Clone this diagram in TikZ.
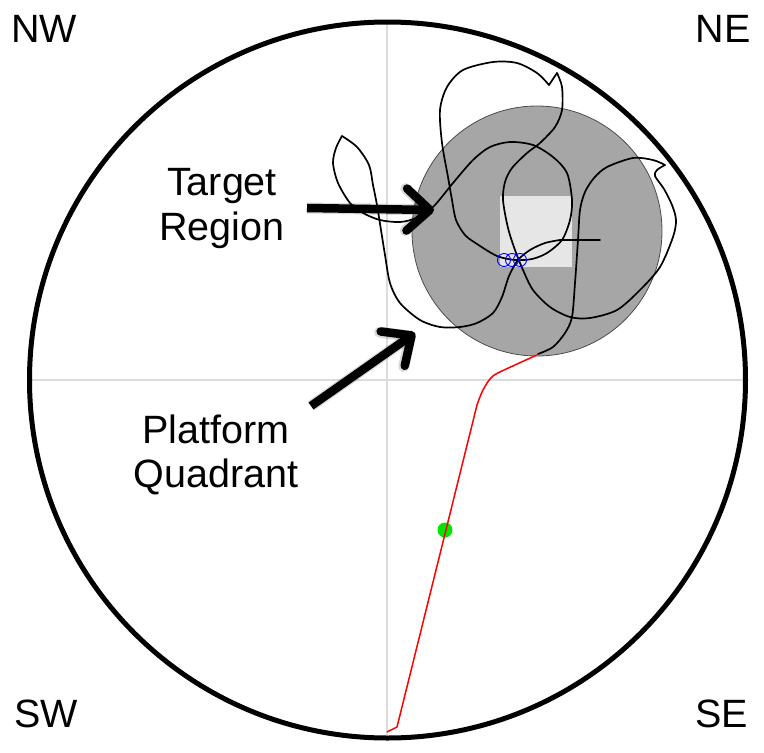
\documentclass[tikz,border=0pt]{standalone}
\usepackage{fontspec}
\setmainfont{Liberation Sans}
\usetikzlibrary{arrows.meta}
\definecolor{diskgray}{RGB}{166,166,166}
\definecolor{boxgray}{RGB}{230,230,230}
\definecolor{crossgray}{RGB}{220,220,220}
\definecolor{dotgreen}{RGB}{0,230,0}
\tikzset{
  traj/.style={line width=1.7pt, line join=round, line cap=round},
  pointer/.style={line width=8.5pt, -{Straight Barb[length=23pt,width=42pt,round]}},
  shade/.style={pointer, draw=black, opacity=0.15},
  lbl/.style={font=\fontsize{39.5}{46}\selectfont, inner sep=0pt},
  crossline/.style={draw=crossgray, line width=1.2pt},
}
\begin{document}
\begin{tikzpicture}[x=1pt,y=-1pt]
\useasboundingbox (0,0) rectangle (764,753);
% crosshair
\draw[crossline] (387,22) -- (387,738);
\draw[crossline] (27,380) -- (747,380);
% pool
\draw[line width=5pt] (387.5,380) circle[radius=358pt];
% target region
\filldraw[fill=diskgray, draw=black!70, line width=0.8pt] (537,231) circle[radius=125pt];
\fill[boxgray] (500,196) rectangle (572,267);
% trajectory
\draw[traj] plot[smooth, tension=0.5] coordinates {(538,354) (553,347) (565,333) (572,317) (575,283) (578,240) (580,210) (585,192) (594,178) (607,167) (633,158) (653,160) (665,165)};
\draw[traj] plot[smooth, tension=0.5] coordinates {(665,165) (657,170) (655,176) (664,189) (672,205) (676,220) (673,237) (660,267) (640,290) (617,310) (590,318) (570,317) (550,307) (533,290) (523,270) (515,250) (508,228) (503,200) (505,182) (512,168) (527,153) (540,143) (555,127) (562,110) (562,87) (557,73)};
\draw[traj] (557,73) -- (549,85);
\draw[traj] plot[smooth, tension=0.5] coordinates {(549,85) (537,73) (517,63) (493,62) (463,70) (447,87) (440,110) (442,143) (448,177) (452,200) (456,220) (465,235) (477,244) (497,256) (515,260) (532,259) (547,253) (562,240) (570,220) (572,200) (567,173) (553,157) (533,145) (510,142) (490,147) (473,160) (453,183) (433,207) (416,218) (400,222) (380,220) (363,213) (350,203) (338,183) (333,163) (336,148) (342,136)};
\draw[traj] plot[smooth, tension=0.5] coordinates {(342,136) (357,147) (369,165) (373,185) (377,205) (381,230) (385,255) (390,283) (400,303) (420,320) (440,327) (460,327) (477,323) (493,313) (502,297) (509,276) (518,260) (530,250) (545,243) (560,240)};
\draw[traj] (560,240) -- (600,240);
% start path
\fill[dotgreen] (445,530) circle[radius=7.5pt];
\draw[red, line width=1.5pt, line join=round] plot[smooth, tension=0.5] coordinates {(537,355) (515,365) (493,376) (483,390) (477,405)} -- (397,727) -- (387,732);
% platform circles
\foreach \cx in {504,512,520} \draw[blue, line width=0.9pt] (\cx,260) circle[radius=6.5pt];
% labels
\node[lbl, anchor=base west] (nw) at (11,42) {NW};
\node[lbl, anchor=base east] (ne) at (751,42) {NE};
\node[lbl, anchor=base west] (sw) at (14,727) {SW};
\node[lbl, anchor=base east] (se) at (748,727) {SE};
\node[lbl, anchor=base] (t1) at (222,195) {Target};
\node[lbl, anchor=base] (t2) at (222,240) {Region};
\node[lbl, anchor=base] (p1) at (216,443) {Platform};
\node[lbl, anchor=base] (p2) at (216,487) {Quadrant};
% arrows
\coordinate (ta) at (307,208);
\coordinate (tb) at (434,210);
\coordinate (pa) at (311,406);
\coordinate (pb) at (415,333);
\begin{scope}[xshift=4pt, yshift=-5pt]
\draw[shade, line width=11pt] (ta) -- (tb);
\draw[shade, line width=11pt] (pa) -- (pb);
\end{scope}
\draw[pointer] (ta) -- (tb);
\draw[pointer] (pa) -- (pb);
\end{tikzpicture}
\end{document}
